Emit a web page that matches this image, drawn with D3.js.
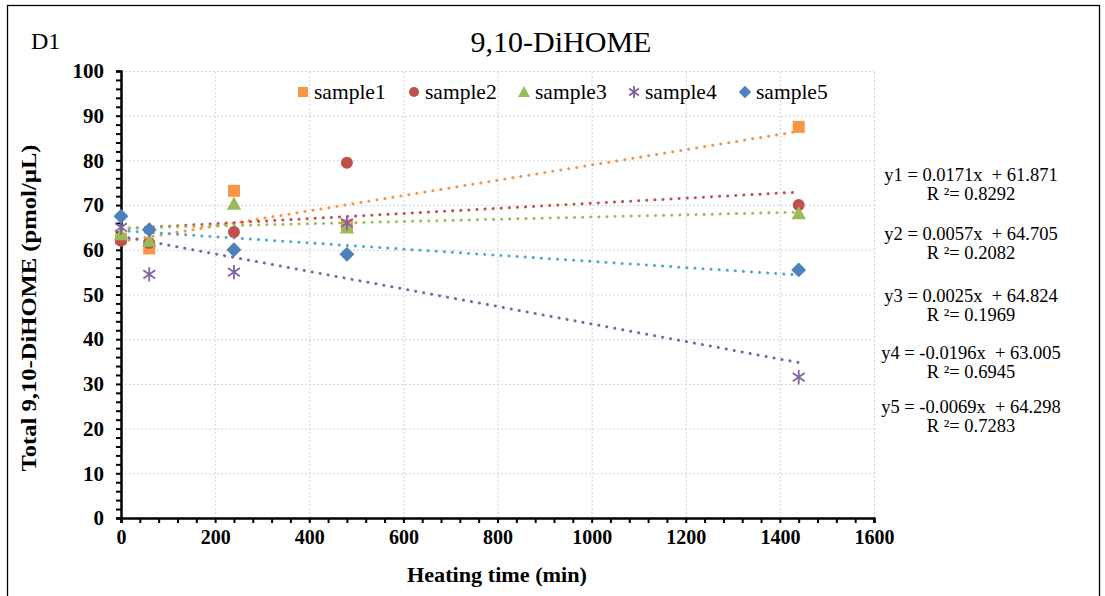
<!DOCTYPE html>
<html><head><meta charset="utf-8">
<script src="https://cdn.jsdelivr.net/npm/d3@7"></script>
<style>body{margin:0;background:#fff}</style>
</head><body>
<svg id="c" width="1105" height="596"></svg>
<script>
const times = [0, 60, 240, 480, 1440];
const seriesNames = ["sample1","sample2","sample3","sample4","sample5"];
const sample1 = [62.5, 60.3, 73.2, 65.5, 87.5];
const sample2 = [62.0, 61.5, 64.0, 79.5, 70.0];
const sample3 = [63.5, 62.0, 70.3, 65.0, 68.2];
const sample4 = [65.0, 54.5, 55.0, 66.0, 31.5];
const sample5 = [67.5, 64.5, 60.0, 59.0, 55.5];
const slopes = [0.0171, 0.0057, 0.0025, -0.0196, -0.0069];
const intercepts = [61.871, 64.705, 64.824, 63.005, 64.298];
const r2 = ["0.8292","0.2082","0.1969","0.6945","0.7283"];
const xTicks = [0,200,400,600,800,1000,1200,1400,1600];
const yTicks = [0,10,20,30,40,50,60,70,80,90,100];
const markerColors = ["#F79646","#C0504D","#9BBB59","#8064A2","#4F81BD"];
const trendColors = ["#F79646","#C0504D","#9BBB59","#8064A2","#4BACC6"];
const shapes = ["square","circle","triangle","star","diamond"];
const values = [sample1, sample2, sample3, sample4, sample5];

const FONT = "'Liberation Serif', 'Times New Roman', 'DejaVu Serif', serif";
const svg = d3.select("#c").attr("font-family", FONT);
svg.append("rect").attr("x",7.5).attr("y",5.5).attr("width",1092).attr("height",600).attr("fill","none").attr("stroke","#000").attr("stroke-width",1.3);

const x = d3.scaleLinear().domain([0,1600]).range([121,874]);
const y = d3.scaleLinear().domain([0,100]).range([518,71]);

// gridlines
const grid = svg.append("g").attr("stroke","#d4d4d4").attr("stroke-width",1).attr("stroke-dasharray","2,2");
yTicks.slice(1).forEach(v=>grid.append("line").attr("x1",x(0)).attr("x2",x(1600)).attr("y1",y(v)+0.5).attr("y2",y(v)+0.5));
xTicks.slice(1).forEach(v=>grid.append("line").attr("y1",y(0)).attr("y2",y(100)).attr("x1",x(v)+0.5).attr("x2",x(v)+0.5));

// axes
const yAxis = svg.append("g").attr("transform",`translate(${x(0)},0)`)
  .call(d3.axisLeft(y).tickValues(d3.range(0,101,2)).tickSize(5).tickFormat(""));
yAxis.select(".domain").attr("stroke-width",2.5);
yAxis.selectAll(".tick line").attr("stroke-width",2);
const yLab = svg.append("g").attr("transform",`translate(${x(0)},0)`)
  .call(d3.axisLeft(y).tickValues(yTicks).tickSize(0).tickPadding(17).tickFormat(d3.format("d")));
yLab.attr("font-family",FONT);
yLab.select(".domain").remove();
yLab.selectAll("text").attr("font-size",21).attr("font-weight","bold").attr("fill","#000");

const xAxis = svg.append("g").attr("transform",`translate(0,${y(0)})`)
  .call(d3.axisBottom(x).tickValues(d3.range(0,1601,40)).tickSize(5).tickFormat(""));
xAxis.select(".domain").attr("stroke-width",2.5);
xAxis.selectAll(".tick line").attr("stroke-width",2);
const xLab = svg.append("g").attr("transform",`translate(0,${y(0)})`)
  .call(d3.axisBottom(x).tickValues(xTicks).tickSize(0).tickPadding(12).tickFormat(d3.format("d")));
xLab.attr("font-family",FONT);
xLab.select(".domain").remove();
xLab.selectAll("text").attr("font-size",20).attr("font-weight","bold").attr("fill","#000");

// titles
svg.append("text").attr("x",561).attr("y",52).attr("text-anchor","middle").attr("font-size",30).text("9,10-DiHOME");
svg.append("text").attr("x",31).attr("y",49).attr("font-size",24).text("D1");
svg.append("text").attr("x",497).attr("y",582).attr("text-anchor","middle").attr("font-size",22).attr("font-weight","bold")
  .attr("textLength",180).attr("lengthAdjust","spacingAndGlyphs").text("Heating time (min)");
svg.append("text").attr("transform","translate(36,308) rotate(-90)").attr("text-anchor","middle").attr("font-size",22).attr("font-weight","bold")
  .attr("textLength",327).attr("lengthAdjust","spacingAndGlyphs").text("Total 9,10-DiHOME (pmol/µL)");

// trendlines
const line = d3.line().x(d=>x(d[0])).y(d=>y(d[1]));
values.forEach((vals,i)=>{
  const pts = [0,1440].map(t=>[t, intercepts[i]+slopes[i]*t]);
  svg.append("path").attr("d",line(pts)).attr("fill","none").attr("stroke",trendColors[i])
    .attr("stroke-width",3).attr("stroke-linecap","round").attr("stroke-dasharray","0.1,8");
});

function marker(g, shape, color, cx, cy, s){
  if(shape==="square") g.append("rect").attr("x",cx-s/2).attr("y",cy-s/2).attr("width",s).attr("height",s).attr("fill",color);
  else if(shape==="circle") g.append("circle").attr("cx",cx).attr("cy",cy).attr("r",s/2).attr("fill",color);
  else if(shape==="triangle") g.append("path").attr("d",`M${cx},${cy-s*0.6}L${cx+s*0.6},${cy+s*0.5}L${cx-s*0.6},${cy+s*0.5}Z`).attr("fill",color);
  else if(shape==="diamond") g.append("path").attr("d",`M${cx},${cy-s*0.62}L${cx+s*0.62},${cy}L${cx},${cy+s*0.62}L${cx-s*0.62},${cy}Z`).attr("fill",color);
  else if(shape==="star"){
    const r=s*0.6;
    g.append("path").attr("d",[35,145].map(a=>{const rad=a*Math.PI/180;return `M${cx+r*Math.cos(rad)},${cy+r*Math.sin(rad)}L${cx-r*Math.cos(rad)},${cy-r*Math.sin(rad)}`;}).join("")+`M${cx},${cy-r}L${cx},${cy+r}`)
      .attr("stroke",color).attr("stroke-width",1.8).attr("fill","none");
  }
}

// markers
const mg = svg.append("g");
values.forEach((vals,i)=>{
  vals.forEach((v,j)=>marker(mg, shapes[i], markerColors[i], x(times[j]), y(v), 12));
});

// legend
const legX = [303,414,524,634,745];
seriesNames.forEach((n,i)=>{
  marker(svg, shapes[i], markerColors[i], legX[i], 92, 10);
  svg.append("text").attr("x",legX[i]+11).attr("y",99).attr("font-size",21.5).text(n);
});

// equations
const eqY = [181, 240, 302, 359, 413];
slopes.forEach((s,i)=>{
  svg.append("text").attr("x",971).attr("y",eqY[i]).attr("text-anchor","middle").attr("font-size",18.5)
    .attr("xml:space","preserve").text(`y${i+1} = ${s}x  + ${intercepts[i]}`);
  svg.append("text").attr("x",971).attr("y",eqY[i]+19).attr("text-anchor","middle").attr("font-size",18.5)
    .text(`R ²= ${r2[i]}`);
});
</script>
</body></html>
